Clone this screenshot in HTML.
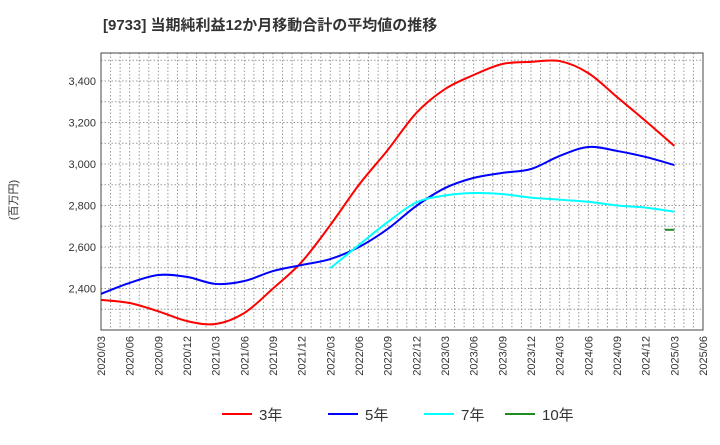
<!DOCTYPE html>
<html><head><meta charset="utf-8"><style>
body{margin:0;background:#fff;font-family:"Liberation Sans","Noto Sans CJK JP",sans-serif;}
</style></head><body>
<svg id="c" width="720" height="440" xmlns="http://www.w3.org/2000/svg" font-family="Liberation Sans, Noto Sans CJK JP, sans-serif">
<text x="103" y="30" font-size="15" font-weight="bold" fill="#333">[9733]  当期純利益12か月移動合計の平均値の推移</text>
<text transform="translate(17,200) rotate(-90)" font-size="11" fill="#333" text-anchor="middle">(百万円)</text>
<g id="grid"></g><g id="axes"></g><g id="lines"></g><g id="legend"></g>
</svg>
<script>
const xLabels=["2020/03","2020/06","2020/09","2020/12","2021/03","2021/06","2021/09","2021/12","2022/03","2022/06","2022/09","2022/12","2023/03","2023/06","2023/09","2023/12","2024/03","2024/06","2024/09","2024/12","2025/03","2025/06"];
const yTicks=[2400,2600,2800,3000,3200,3400];
const s3=[2345,2330,2290,2243,2229,2282,2400,2528,2706,2900,3067,3246,3361,3429,3482,3492,3496,3438,3323,3207,3087];
const s5=[2374,2427,2465,2456,2422,2436,2484,2513,2542,2600,2687,2798,2884,2933,2957,2976,3039,3082,3063,3034,2995];
const s7=[2498,2610,2720,2815,2848,2860,2855,2838,2828,2818,2800,2790,2770];
const s7start=8;
const s10=[2683,2683];
const s10months=[59,60];
const L=101,R=703,T=53,B=330;
const NS="http://www.w3.org/2000/svg";
function xm(m){return L+(R-L)*m/63;}
function y(v){return 81+(3400-v)*41.5/200;}
function mk(tag,attrs,parent){const e=document.createElementNS(NS,tag);for(const k in attrs)e.setAttribute(k,attrs[k]);document.getElementById(parent).appendChild(e);return e;}
// grid
for(let m=1;m<63;m++){const g=mk('line',{x1:xm(m),x2:xm(m),y1:T,y2:B,stroke:'#999','stroke-dasharray':'1.5,2','stroke-width':1},'grid');

}
for(let v=2300;v<=3500;v+=100){const g=mk('line',{x1:L,x2:R,y1:y(v),y2:y(v),stroke:'#999','stroke-dasharray':'1.5,2','stroke-width':1},'grid');

}
const fr=mk('rect',{x:L,y:T,width:R-L,height:B-T,fill:'none',stroke:'#444','stroke-width':1},'axes');


yTicks.forEach(v=>{const t=mk('text',{x:L-5,y:y(v)+4,'font-size':11,fill:'#333','text-anchor':'end'},'axes');t.textContent=v.toLocaleString('en-US');

});
xLabels.forEach((s,i)=>{const x=xm(i*3);const t=mk('text',{transform:`translate(${x+4},${B+6}) rotate(-90)`,'font-size':11,fill:'#333','text-anchor':'end'},'axes');t.textContent=s;

});
function path(pts){let d=`M${pts[0][0]},${pts[0][1]}`;for(let i=0;i<pts.length-1;i++){const p0=pts[i-1]||pts[i],p1=pts[i],p2=pts[i+1],p3=pts[i+2]||p2;
d+=` C${p1[0]+(p2[0]-p0[0])/6},${p1[1]+(p2[1]-p0[1])/6} ${p2[0]-(p3[0]-p1[0])/6},${p2[1]-(p3[1]-p1[1])/6} ${p2[0]},${p2[1]}`;}return d;}
function line(pts,col,name){const p=mk('path',{d:path(pts),fill:'none',stroke:col,'stroke-width':2},'lines');

}
line(s3.map((v,i)=>[xm(i*3),y(v)]),'#f00','series-3yr');
line(s5.map((v,i)=>[xm(i*3),y(v)]),'#00f','series-5yr');
line(s7.map((v,i)=>[xm((i+s7start)*3),y(v)]),'#0ff','series-7yr');
line(s10.map((v,i)=>[xm(s10months[i]),y(v)]),'#228b22','series-10yr');
const leg=[['3年','#f00',222],['5年','#00f',328],['7年','#0ff',424],['10年','#228b22',505]];
leg.forEach(([t,c,x])=>{const l=mk('line',{x1:x,x2:x+30,y1:414,y2:414,stroke:c,'stroke-width':2},'legend');


const tx=mk('text',{x:x+37,y:420,'font-size':15,fill:'#333'},'legend');tx.textContent=t;

});
</script>
</body></html>
